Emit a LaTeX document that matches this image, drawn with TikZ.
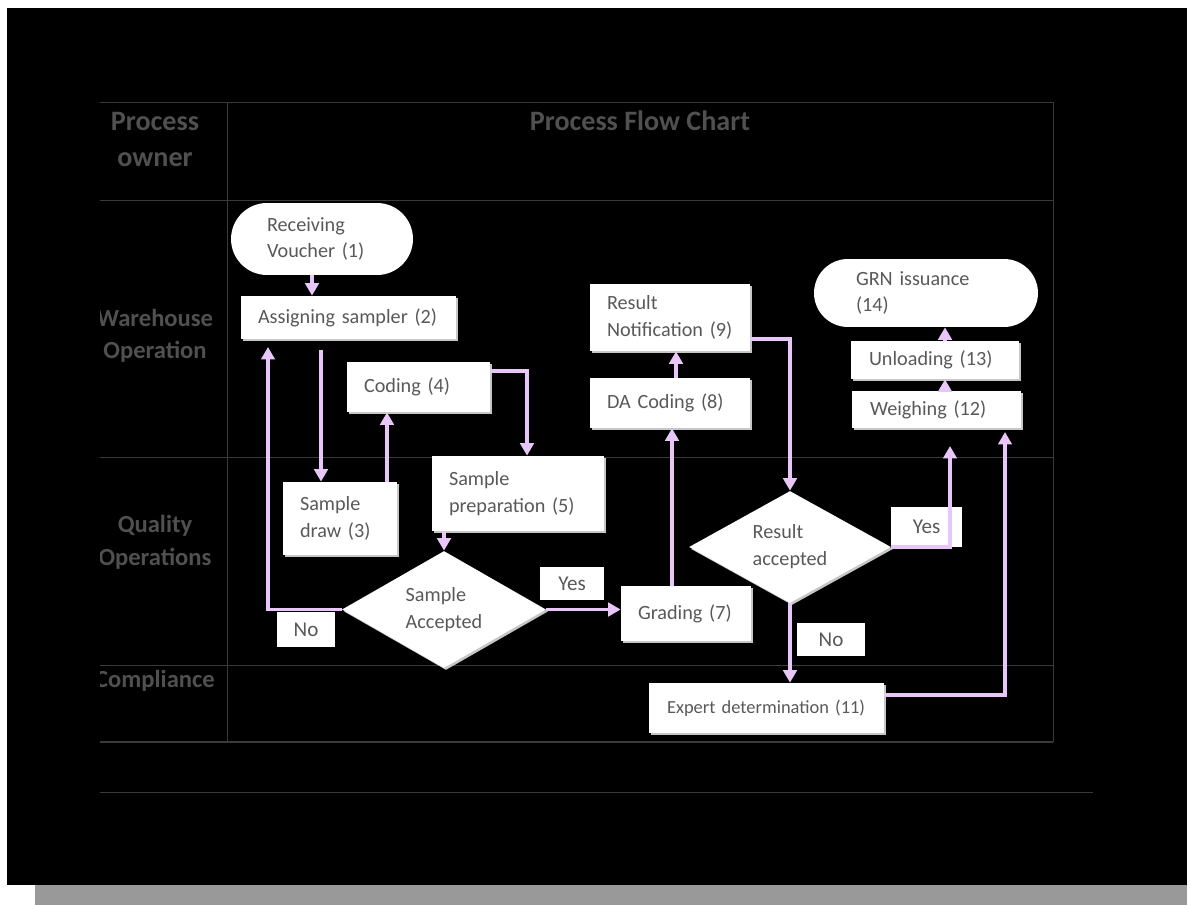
\documentclass[tikz,border=0pt]{standalone}
\usepackage{fontspec}
\setmainfont{Carlito}
\usepackage{xcolor}
\usetikzlibrary{calc}
\usetikzlibrary{shapes.misc,shapes.geometric,shadows}
\usetikzlibrary{positioning, arrows.meta}
\definecolor{flowc}{HTML}{E8C6F7}
\definecolor{txtc}{HTML}{595959}
\definecolor{headc}{HTML}{505050}
\definecolor{gridc}{HTML}{3A3A3A}
\newcommand{\flowtxt}{\fontsize{11.5}{15.3}\selectfont}
\newcommand{\headtxt}{\fontsize{16}{19}\selectfont\bfseries}
\newcommand{\rowtxt}{\fontsize{14}{17}\selectfont\bfseries}

\begin{document}
\begin{tikzpicture}
  [x=0.02cm, y=-0.02cm,
   box/.style={rectangle, fill=white, text=txtc, align=left, font=\flowtxt,
     inner xsep=0.34cm, inner ysep=0,
     general shadow={fill=gray!45, shadow xshift=0.04cm, shadow yshift=-0.04cm}},
   term/.style={rounded rectangle, fill=white, text=txtc, align=left, font=\flowtxt,
     inner sep=0},
   decide/.style={diamond, fill=white, text=txtc, align=left, font=\flowtxt,
     inner sep=0, aspect=1.75,
     general shadow={fill=gray!45, shadow xshift=0.04cm, shadow yshift=-0.04cm}},
   tag/.style={rectangle, fill=white, text=txtc, font=\fontsize{12}{14}\selectfont,
     inner sep=0},
   flow/.style={draw=flowc, line width=0.07cm, -{Triangle[width=0.27cm,length=0.25cm]}},
   grid/.style={draw=gridc, line width=0.5pt}]

  % page %
  \fill[white] (0,0) rectangle (1190,905);
  \fill[gray!80] (35,30) rectangle (1187,905);
  \fill[black] (7,8) rectangle (1187,885);

  % table %
  \draw[grid] (100,102) -- (1053,102);
  \draw[grid] (100,200) -- (1053,200);
  \draw[grid] (100,457) -- (1053,457);
  \draw[grid] (100,665) -- (1053,665);
  \draw[grid, line width=1.2pt] (100,742) -- (1053,742);
  \draw[grid] (100,792) -- (1093,792);
  \draw[grid] (227,102) -- (227,742);
  \draw[grid] (1053,102) -- (1053,742);

  \begin{scope}
    \clip (100,102) rectangle (227,742);
    \node[text=headc, font=\headtxt] (own1) at (155,121) {Process};
    \node[text=headc, font=\headtxt] (own2) at (155,160) {owner};
    \node[text=headc, font=\rowtxt] (wh1) at (155,318) {Warehouse};
    \node[text=headc, font=\rowtxt] (wh2) at (155,352) {Operation};
    \node[text=headc, font=\rowtxt] (qo1) at (155,526) {Quality};
    \node[text=headc, font=\rowtxt] (qo2) at (155,559) {Operations};
    \node[text=headc, font=\rowtxt] (cmp) at (155,681) {Compliance};
  \end{scope}
  \node[text=headc, font=\headtxt] (title) at (640,121) {Process Flow Chart};

  % nodes %
  \node[term, minimum width=3.64cm, minimum height=1.44cm, text width=2.2cm] (rv) at (322,239) {Receiving\\Voucher~(1)};
  \node[box, minimum width=4.3cm, minimum height=0.86cm, text width=3.62cm] (as) at (348.5,317.5) {Assigning sampler~(2)};
  \node[box, minimum width=2.28cm, minimum height=1.46cm, text width=1.6cm] (sd) at (340,518.5) {Sample\\draw~(3)};
  \node[box, minimum width=2.86cm, minimum height=1.0cm, text width=2.18cm] (cod) at (418.5,387) {Coding~(4)};
  \node[box, minimum width=3.44cm, minimum height=1.5cm, text width=2.76cm] (prep) at (518,493.5) {Sample\\preparation~(5)};
  \node[decide, minimum width=4.08cm, minimum height=2.34cm] (sacc) at (444,609.5) {Sample\\Accepted};
  \node[box, minimum width=2.6cm, minimum height=1.1cm, text width=1.92cm] (grd) at (686,613.5) {Grading~(7)};
  \node[box, minimum width=3.2cm, minimum height=1.0cm, text width=2.52cm] (dac) at (670,403) {DA Coding~(8)};
  \node[box, minimum width=3.2cm, minimum height=1.34cm, text width=2.52cm] (rn) at (670,317.5) {Result\\Notification~(9)};
  \node[decide, minimum width=4.04cm, minimum height=2.24cm] (racc) at (790,547) {Result\\accepted};
  \node[box, minimum width=4.7cm, minimum height=1.0cm, text width=3.98cm, font=\fontsize{10.5}{13}\selectfont] (exp) at (766.5,708) {Expert determination~(11)};
  \node[box, minimum width=3.38cm, minimum height=0.74cm, text width=2.66cm] (wei) at (936.5,409.5) {Weighing~(12)};
  \node[box, minimum width=3.36cm, minimum height=0.76cm, text width=2.64cm] (unl) at (935,360) {Unloading~(13)};
  \node[term, minimum width=4.48cm, minimum height=1.36cm, text width=2.8cm] (grn) at (926,293) {GRN issuance\\(14)};

  \node[tag, minimum width=1.16cm, minimum height=0.7cm] (no1) at (306,629.5) {No};
  \node[tag, minimum width=1.28cm, minimum height=0.66cm] (yes1) at (572,583.5) {Yes};
  \node[tag, minimum width=1.42cm, minimum height=0.8cm] (yes2) at (926.5,527) {Yes};
  \node[tag, minimum width=1.36cm, minimum height=0.66cm] (no2) at (831,639.5) {No};

  \coordinate (noup) at (268,347);
  \coordinate (yesup) at (950,446);
  \coordinate (expup) at (1005,432);

  % edges %
  \draw[flow] (rv.south -| 312,0) -- (as.north -| 312,0);
  \draw[flow] ([yshift=-0.22cm]as.south -| 321,0) -- (sd.north -| 321,0);
  \draw[flow] (sd.north -| 387,0) -- (cod.south -| 387,0);
  \draw[flow] ([yshift=0.32cm]cod.east) -| (prep.north -| 527,0);
  \draw[flow] (prep.south -| sacc.north) -- (sacc.north);
  \draw[flow] (sacc.west) -| (noup);
  \draw[flow] (sacc.east) -- (sacc.east -| grd.west);
  \draw[flow] (grd.north -| 672,0) -- (dac.south -| 672,0);
  \draw[flow] (dac.north -| 676,0) -- (rn.south -| 676,0);
  \draw[flow] ([yshift=-0.43cm]rn.east) -| (racc.north);
  \draw[flow] (racc.east) -| (yesup);
  \draw[flow] (racc.south) -- (racc.south |- exp.north);
  \draw[flow] ([yshift=0.26cm]exp.east) -| (expup);
  \draw[flow] (wei.north -| 945,0) -- (unl.south -| 945,0);
  \draw[flow] (unl.north -| 945,0) -- (grn.south -| 945,0);

\end{tikzpicture}
\end{document}
